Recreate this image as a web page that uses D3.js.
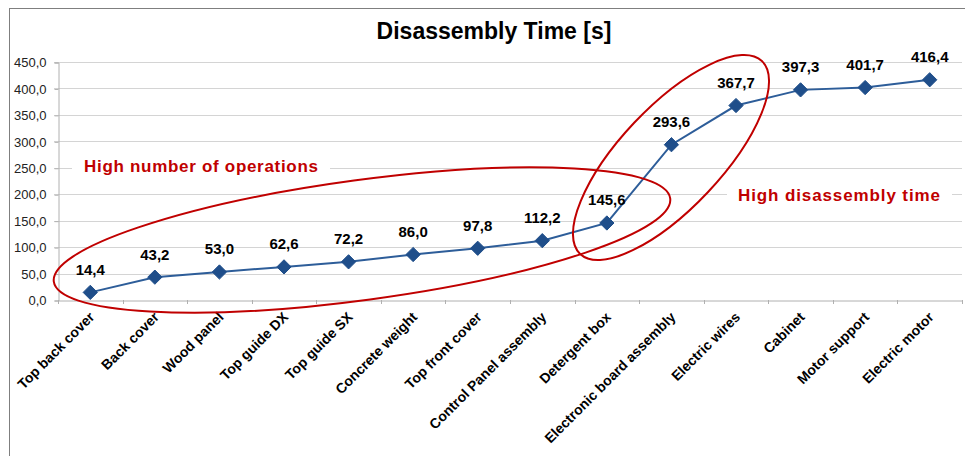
<!DOCTYPE html>
<html>
<head>
<meta charset="utf-8">
<script src="https://cdn.jsdelivr.net/npm/d3@7"></script>
<style>
  html, body { margin: 0; padding: 0; background: #fff; }
  svg { display: block; }
</style>
</head>
<body>
<svg id="chart" width="965" height="456"></svg>
<script>
const chartTitle = "Disassembly Time [s]";
const categories = ["Top back cover", "Back cover", "Wood panel", "Top guide DX", "Top guide SX",
  "Concrete weight", "Top front cover", "Control Panel assembly", "Detergent box",
  "Electronic board assembly", "Electric wires", "Cabinet", "Motor support", "Electric motor"];
const values = [14.4, 43.2, 53.0, 62.6, 72.2, 86.0, 97.8, 112.2, 145.6, 293.6, 367.7, 397.3, 401.7, 416.4];
const yTicks = [0, 50, 100, 150, 200, 250, 300, 350, 400, 450];
const annotations = ["High number of operations", "High disassembly time"];

const svg = d3.select("#chart");
const plot = { left: 58, right: 962, top: 62, bottom: 300 };

const locale = d3.formatLocale({ decimal: ",", thousands: ".", grouping: [3], currency: ["", "€"] });
const fmt = locale.format(".1f");

const x = d3.scaleBand().domain(categories).range([plot.left, plot.right]).padding(0);
const y = d3.scaleLinear().domain([0, 450]).range([plot.bottom, plot.top]);

// outer border
svg.append("rect").attr("x", 9.5).attr("y", 8.5).attr("width", 970).attr("height", 470)
  .attr("fill", "none").attr("stroke", "#7f7f7f").attr("stroke-width", 1);

// title
svg.append("text").attr("x", 494).attr("y", 39).attr("text-anchor", "middle")
  .attr("font-family", "Liberation Sans, Arial, sans-serif").attr("font-weight", "bold")
  .attr("font-size", 23).attr("fill", "#000").text(chartTitle);

// gridlines
svg.append("g").selectAll("line").data(yTicks.filter(d => d > 0)).join("line")
  .attr("x1", plot.left - 4).attr("x2", plot.right)
  .attr("y1", d => Math.round(y(d)) + 0.5).attr("y2", d => Math.round(y(d)) + 0.5)
  .attr("stroke", "#d4d4d4").attr("stroke-width", 1);

// y axis
const yAxis = svg.append("g").attr("transform", `translate(${plot.left + 0.5},0.5)`)
  .call(d3.axisLeft(y).tickValues(yTicks).tickFormat(fmt).tickSize(4).tickPadding(8));
yAxis.select(".domain").attr("stroke", "#b0b0b0");
yAxis.selectAll(".tick line").attr("stroke", "#b0b0b0");
yAxis.selectAll(".tick text").attr("font-family", "Liberation Sans, Arial, sans-serif")
  .attr("font-size", 13).attr("fill", "#222");

// x axis
const xAxis = svg.append("g").attr("transform", `translate(0.5,${plot.bottom + 0.5})`)
  .call(d3.axisBottom(x).tickSize(0).tickFormat(""));
xAxis.select(".domain").attr("stroke", "#b0b0b0");
xAxis.selectAll(".tick").remove();
const bounds = categories.map(c => x(c)).concat([plot.right]);
svg.append("g").selectAll("line").data(bounds).join("line")
  .attr("x1", d => Math.round(d) + 0.5).attr("x2", d => Math.round(d) + 0.5)
  .attr("y1", plot.bottom).attr("y2", plot.bottom + 4)
  .attr("stroke", "#b0b0b0");

// x labels
svg.append("g").selectAll("text").data(categories).join("text")
  .attr("transform", d => `translate(${x(d) + x.bandwidth() / 2 + 5},${plot.bottom + 18}) rotate(-45)`)
  .attr("text-anchor", "end")
  .attr("font-family", "Liberation Sans, Arial, sans-serif").attr("font-weight", "bold")
  .attr("font-size", 14).attr("fill", "#000").text(d => d);

// annotation boxes + text
const ann = [
  { text: annotations[0], x: 84, y: 172, box: [72, 156, 258, 22], len: 234 },
  { text: annotations[1], x: 738, y: 201, box: [727, 185, 225, 22], len: 202 }
];
ann.forEach(a => {
  svg.append("rect").attr("x", a.box[0]).attr("y", a.box[1]).attr("width", a.box[2]).attr("height", a.box[3])
    .attr("fill", "#fff");
  svg.append("text").attr("x", a.x).attr("y", a.y)
    .attr("font-family", "Liberation Sans, Arial, sans-serif").attr("font-weight", "bold")
    .attr("font-size", 17).attr("fill", "#c00000")
    .attr("textLength", a.len).attr("lengthAdjust", "spacing")
    .text(a.text);
});

// line
const cx = d => x(d) + x.bandwidth() / 2;
const pts = categories.map((c, i) => [cx(c), y(values[i])]);
svg.append("path").datum(pts).attr("d", d3.line())
  .attr("fill", "none").attr("stroke", "#2d5d99").attr("stroke-width", 2);

// markers
svg.append("g").selectAll("path").data(pts).join("path")
  .attr("transform", d => `translate(${d[0]},${d[1]})`)
  .attr("d", d3.symbol().type(d3.symbolDiamond2).size(130))
  .attr("fill", "#1f4e8a").attr("stroke", "#1f4e8a").attr("stroke-width", 1);

// data labels
svg.append("g").selectAll("text").data(values).join("text")
  .attr("x", (d, i) => cx(categories[i])).attr("y", d => y(d) - 17.5)
  .attr("text-anchor", "middle")
  .attr("font-family", "Liberation Sans, Arial, sans-serif").attr("font-weight", "bold")
  .attr("font-size", 15).attr("fill", "#000").text(d => fmt(d));

// ellipses
svg.append("ellipse").attr("transform", "translate(362,240) rotate(-7.7)")
  .attr("rx", 311).attr("ry", 60).attr("fill", "none").attr("stroke", "#c00000").attr("stroke-width", 2);
svg.append("ellipse").attr("transform", "translate(671,157.5) rotate(-46.7)")
  .attr("rx", 132.5).attr("ry", 50.6).attr("fill", "none").attr("stroke", "#c00000").attr("stroke-width", 2);
</script>
</body>
</html>
